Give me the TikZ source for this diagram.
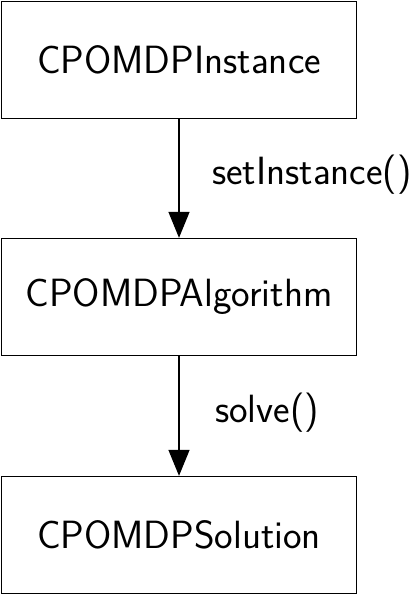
\documentclass[tikz,border=0pt]{standalone}
\usetikzlibrary{arrows.meta}
\begin{document}
\begin{tikzpicture}[x=1pt,y=1pt,
  box/.style={draw, line width=1.3pt, minimum width=355pt, minimum height=117pt, inner sep=0pt, font=\sffamily\fontsize{39.4}{47}\selectfont},
  lbl/.style={anchor=west, inner sep=0pt, font=\sffamily\fontsize{39.4}{47}\selectfont},
  conn/.style={line width=1.3pt, -{Triangle[width=21pt,length=26pt]}}]
\useasboundingbox (0,0) rectangle (413,-596);
\node[box] (inst) at (179,-60) {CPOMDPInstance};
\node[box] (algo) at (179,-297) {CPOMDPAlgorithm};
\node[box] (sol) at (179,-535) {CPOMDPSolution};
\draw[conn] (inst) -- (algo);
\draw[conn] (algo) -- (sol);
\node[lbl] (l1) at (212,-175) {setInstance()};
\node[lbl] (l2) at (215,-413) {solve()};
\end{tikzpicture}
\end{document}
